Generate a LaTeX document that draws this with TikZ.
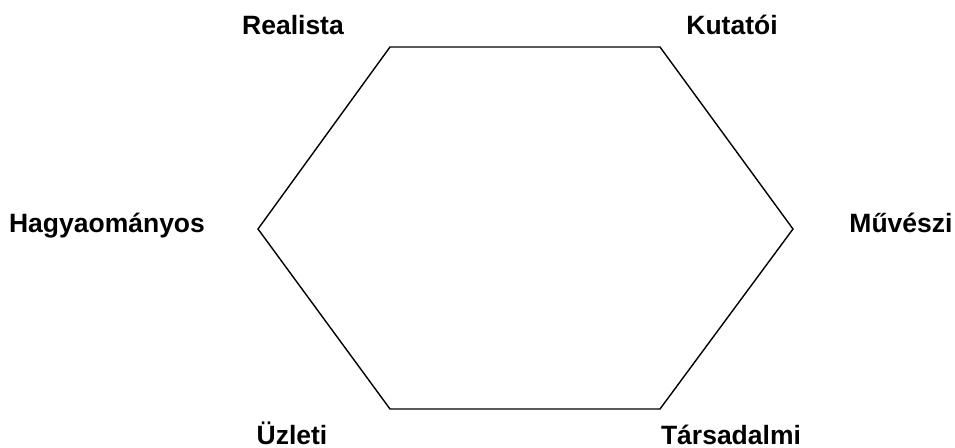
\documentclass[tikz,border=0pt]{standalone}
\usepackage{fontspec}
\setmainfont{Liberation Sans}

\begin{document}
\begin{tikzpicture}[
    x=0.5pt, y=-0.5pt, % pixel grid of the reference
    every node/.style={font=\bfseries\fontsize{13.25}{16}\selectfont},
    corner label/.style={anchor=base, inner sep=0pt}
]

    % --- 1. CANVAS ---
    \useasboundingbox (0,0) rectangle (955,448);

    % --- 2. HEXAGON CORNERS ---
    \coordinate (tl) at (390,47);
    \coordinate (tr) at (660,47);
    \coordinate (r)  at (793,229);
    \coordinate (br) at (660,409);
    \coordinate (bl) at (390,409);
    \coordinate (l)  at (258,229);

    \draw[line width=0.7pt, line join=miter] (tl) -- (tr) -- (r) -- (br) -- (bl) -- (l) -- cycle;

    % --- 3. LABELS ---
    \node[corner label] (realista)  at (293,35)  {Realista};
    \node[corner label] (kutatoi)   at (732,35)  {Kutatói};
    \node[corner label] (hagyom)    at (107,233) {Hagyaományos};
    \node[corner label] (muveszi)   at (901,233) {Művészi};
    \node[corner label] (uzleti)    at (292,445) {Üzleti};
    \node[corner label] (tarsadalm) at (731,445) {Társadalmi};

\end{tikzpicture}
\end{document}
